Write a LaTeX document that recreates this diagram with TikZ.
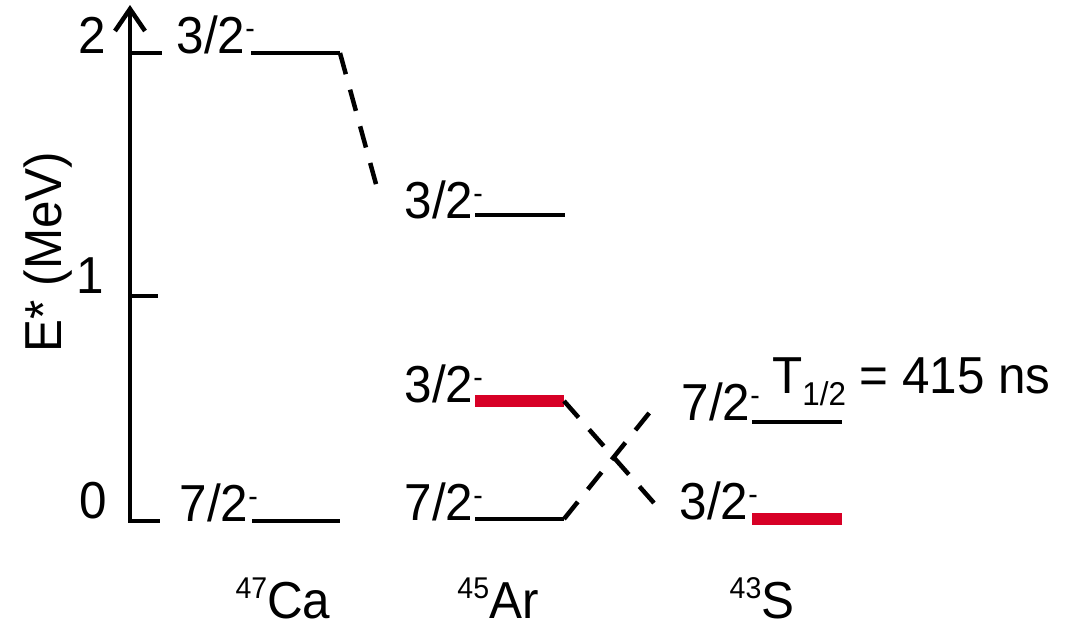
\documentclass[tikz,border=0pt]{standalone}
\usepackage{fontspec}
\setmainfont[FakeStretch=0.95]{Liberation Sans}
\usetikzlibrary{arrows.meta}
\definecolor{lvlred}{RGB}{215,0,38}
\newcommand\supm{\raisebox{15pt}{\fontsize{30}{30}\selectfont -}}
\newcommand\supn[1]{\raisebox{20pt}{\fontsize{30}{30}\selectfont #1}}
\newcommand\subn[1]{\raisebox{-12pt}{\fontsize{33}{33}\selectfont #1}}
\begin{document}
\begin{tikzpicture}[x=1pt,y=-1pt,
  txt/.style={font=\fontsize{52}{60}\selectfont, inner sep=0pt},
  lvl/.style={line width=4.5pt, black},
  redlvl/.style={line width=12pt, lvlred},
  dashlink/.style={line width=4.5pt, dash pattern=on 22pt off 16pt},
  axisline/.style={line width=4.5pt}]
\useasboundingbox (0,0) rectangle (1077,627);
% axis
\coordinate (ax0) at (130,521);
\coordinate (axtop) at (130,5);
\draw[axisline, -{Straight Barb[length=22pt,width=30pt,line width=4.5pt]}] (ax0) -- (axtop);
\coordinate (t2a) at (130,53); \coordinate (t2b) at (162,53);
\coordinate (t1a) at (130,296); \coordinate (t1b) at (158,296);
\coordinate (t0a) at (128,521); \coordinate (t0b) at (160,521);
\draw[axisline] (t2a) -- (t2b);
\draw[axisline] (t1a) -- (t1b);
\draw[axisline] (t0a) -- (t0b);
\node[txt, anchor=base east] (n2) at (106,53) {2};
\node[txt, anchor=base east] (n1) at (104,293) {1};
\node[txt, anchor=base east] (n0) at (107,518) {0};
\node[txt, rotate=90] (ylab) at (48,252) {E* (MeV)};
% 47Ca
\coordinate (ca3a) at (251,53); \coordinate (ca3b) at (340,53);
\coordinate (ca7a) at (252,521); \coordinate (ca7b) at (340,521);
\draw[lvl] (ca3a) -- (ca3b);
\draw[lvl] (ca7a) -- (ca7b);
\node[txt, anchor=base east] (lca3) at (255,53) {3/2\supm};
\node[txt, anchor=base east] (lca7) at (258,521) {7/2\supm};
% 45Ar
\coordinate (ar3ua) at (475,215); \coordinate (ar3ub) at (565,215);
\coordinate (ar3a) at (475,401); \coordinate (ar3b) at (564,401);
\coordinate (ar7a) at (475,519); \coordinate (ar7b) at (564,519);
\draw[lvl] (ar3ua) -- (ar3ub);
\draw[redlvl] (ar3a) -- (ar3b);
\draw[lvl] (ar7a) -- (ar7b);
\node[txt, anchor=base east] (lar3u) at (483,218) {3/2\supm};
\node[txt, anchor=base east] (lar3) at (483,402) {3/2\supm};
\node[txt, anchor=base east] (lar7) at (483,520) {7/2\supm};
% 43S
\coordinate (s7a) at (752,422); \coordinate (s7b) at (842,422);
\coordinate (s3a) at (752,519); \coordinate (s3b) at (842,519);
\draw[lvl] (s7a) -- (s7b);
\draw[redlvl] (s3a) -- (s3b);
\node[txt, anchor=base east] (ls7) at (760,420) {7/2\supm};
\node[txt, anchor=base east] (ls3) at (758,519) {3/2\supm};
\node[txt, anchor=base west] (thalf) at (772,393) {T\subn{1/2} = 415 ns};
% dashed connectors
\coordinate (d1e) at (379,195);
\coordinate (d2e) at (654,503);
\coordinate (d3e) at (654,407);
\draw[dashlink] (ca3b) -- (d1e);
\draw[dashlink] (ar3b) -- (d2e);
\draw[dashlink] (ar7b) -- (d3e);
% nuclei
\node[txt, anchor=base] (ca) at (283,618) {\supn{47}Ca};
\node[txt, anchor=base] (ar) at (498,618) {\supn{45}Ar};
\node[txt, anchor=base] (s) at (762,618) {\supn{43}S};
\end{tikzpicture}
\end{document}
